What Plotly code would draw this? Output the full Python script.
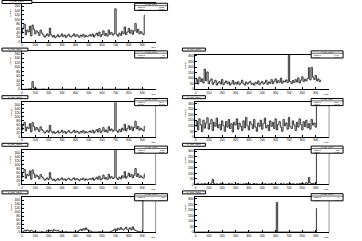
import plotly.graph_objects as go

W, H = 362, 241

# ---------------- data (bin contents) ----------------
names = ["h_adc_ch00", "h_adc_ch01", "h_adc_ch02", "h_adc_ch03", "h_adc_ch04",
         "h_adc_ch05", "h_adc_ch06", "h_adc_ch07", "h_adc_ch08"]
entries = ["1523", "12", "1498", "1540", "2876", "1511", "230", "402", "3"]
means = ["38.21", "8.05", "42.66", "39.02", "45.73", "38.87", "64.12", "71.40", "76.0"]

p1 = [22, 35, 45, 18, 30, 25, 40, 15, 43, 32, 20, 28, 24, 16, 30, 22, 18, 12, 15, 20,
      14, 35, 18, 12, 16, 10, 14, 18, 12, 15, 20, 13, 17, 11, 15, 19, 14, 12, 16, 20,
      13, 18, 15, 11, 17, 14, 19, 12, 16, 13, 15, 18, 14, 20, 12, 17, 22, 15, 25, 13,
      18, 28, 16, 21, 14, 30, 19, 24, 17, 20, 85, 18, 14, 22, 16, 26, 20, 38, 18, 25,
      34, 22, 30, 19, 28, 47, 24, 32, 20, 26, 22, 18, 68]
p2 = [0, 0, 0, 0, 0, 1, 0, 2, 20, 3, 0, 1, 0, 0, 0, 0, 1, 0, 0, 0,
      0, 0, 0, 0, 0, 0, 0, 0, 0, 0, 0, 0, 0, 0, 0, 0, 0, 0, 0, 0,
      0, 0, 0, 0, 0, 0, 0, 0, 0, 0, 0, 0, 0, 0, 0, 0, 0, 0, 0, 0,
      0, 0, 0, 0, 0, 0, 0, 0, 0, 0, 0, 0, 0, 0, 0, 0, 0, 0, 0, 0,
      0, 0, 0, 0, 0, 0, 0, 0, 0, 0, 0, 0, 0]
p3 = [20, 28, 15, 35, 22, 30, 18, 58, 25, 50, 16, 24, 30, 14, 20, 26, 12, 18, 22, 15,
      28, 13, 19, 24, 16, 21, 12, 17, 25, 14, 20, 15, 22, 13, 18, 26, 16, 12, 21, 15,
      19, 23, 14, 17, 12, 20, 16, 24, 13, 18, 22, 15, 19, 26, 14, 21, 17, 28, 16, 23,
      30, 18, 25, 20, 32, 17, 24, 21, 27, 19, 110, 22, 16, 25, 19, 28, 21, 33, 18, 26,
      36, 22, 29, 24, 31, 62, 27, 63, 35, 28, 40, 24, 30, 22, 26]
p4 = [20, 33, 42, 17, 28, 24, 38, 14, 41, 30, 19, 27, 22, 15, 29, 21, 17, 11, 14, 19,
      13, 33, 17, 11, 15, 10, 13, 17, 11, 14, 19, 12, 16, 10, 14, 18, 13, 11, 15, 19,
      12, 17, 14, 10, 16, 13, 18, 11, 15, 12, 14, 17, 13, 19, 11, 16, 21, 14, 24, 12,
      17, 27, 15, 20, 13, 29, 18, 23, 16, 19, 150, 17, 13, 21, 15, 25, 19, 36, 17, 24,
      32, 21, 29, 18, 27, 45, 23, 30, 19, 25, 21, 17, 30]
p5 = [30, 45, 20, 52, 35, 15, 48, 25, 40, 55, 22, 38, 50, 18, 42, 30, 54, 26, 36, 20,
      46, 32, 16, 44, 28, 50, 24, 38, 14, 42, 34, 52, 22, 40, 30, 18, 46, 26, 56, 32,
      20, 44, 36, 24, 50, 28, 16, 40, 30, 48, 22, 38, 54, 26, 34, 18, 46, 30, 42, 24,
      52, 20, 36, 44, 28, 16, 50, 32, 40, 22, 56, 30, 24, 46, 34, 18, 42, 28, 52, 36,
      20, 44, 30, 48, 26, 38, 22, 50, 34, 40, 28, 200]
p6 = [21, 34, 43, 18, 29, 25, 39, 15, 42, 31, 20, 27, 23, 16, 29, 22, 18, 12, 15, 19,
      14, 34, 18, 12, 15, 10, 14, 17, 12, 15, 19, 13, 16, 11, 15, 18, 14, 12, 16, 19,
      13, 17, 15, 11, 16, 14, 18, 12, 16, 13, 15, 17, 14, 19, 12, 16, 21, 15, 24, 13,
      17, 27, 16, 20, 14, 29, 18, 23, 17, 19, 150, 18, 14, 21, 16, 25, 19, 37, 18, 24,
      33, 22, 29, 19, 27, 46, 23, 31, 20, 25, 21, 18, 30]
p7 = [2, 0, 3, 0, 1, 2, 0, 3, 0, 2, 1, 0, 4, 15, 3, 0, 2, 0, 1, 3,
      0, 2, 0, 1, 0, 3, 0, 2, 1, 0, 2, 0, 3, 0, 1, 0, 2, 0, 3, 1,
      0, 2, 0, 1, 3, 0, 2, 0, 1, 0, 3, 0, 2, 1, 0, 2, 0, 3, 0, 1,
      2, 0, 1, 0, 3, 0, 2, 0, 1, 2, 0, 3, 0, 2, 1, 0, 2, 0, 3, 1,
      4, 2, 0, 5, 3, 20, 4, 2, 3, 1, 2, 200]
p8 = [0, 1, 5, 3, 6, 4, 2, 5, 3, 1, 0, 0, 0, 0, 0, 1, 0, 0, 0, 4,
      6, 3, 5, 2, 7, 4, 3, 5, 2, 1, 0, 0, 0, 1, 0, 0, 0, 0, 0, 0,
      0, 0, 2, 5, 8, 4, 10, 6, 12, 7, 5, 3, 1, 0, 0, 0, 0, 0, 1, 0,
      0, 0, 0, 0, 0, 0, 0, 2, 4, 6, 9, 5, 11, 7, 13, 8, 6, 10, 14, 7,
      9, 12, 6, 15, 8, 5, 3, 2, 1, 0, 0, 200]
p9 = [0, 0, 0, 0, 0, 0, 0, 0, 0, 0, 0, 0, 0, 0, 0, 0, 0, 0, 0, 0,
      0, 0, 0, 0, 0, 0, 0, 0, 0, 0, 0, 0, 0, 0, 0, 0, 0, 0, 0, 0,
      0, 0, 0, 0, 0, 0, 0, 0, 0, 0, 0, 0, 0, 0, 0, 0, 0, 0, 0, 0,
      0, 85, 0, 0, 0, 0, 0, 0, 0, 0, 0, 0, 0, 0, 0, 0, 0, 0, 0, 0,
      0, 0, 0, 0, 0, 0, 0, 0, 0, 0, 0, 68]
series = [p1, p2, p3, p4, p5, p6, p7, p8, p9]

x_range = [0, 100]
y_range = [0, 100]
x_ticks = [0, 10, 20, 30, 40, 50, 60, 70, 80, 90]
x_labels = ["0", "100", "200", "300", "400", "500", "600", "700", "800", "900"]
yl_ticks = [0, 11.5, 23, 34.5, 46, 57.5, 69, 80.5, 92]
yl_labels = ["0", "20", "40", "60", "80", "100", "120", "140", "160"]
yr_ticks = [0, 16, 32, 48, 64, 80, 96]
yr_labels = ["0", "50", "100", "150", "200", "250", "300"]

# ---------------- layout of the pads (pixel frames) ----------------
LEFT = (21, 155)
RIGHT = (195, 329)
pads = [
    (LEFT, 3, 42, 0, 0, False),
    (LEFT, 51, 90, 0, 48, False),
    (RIGHT, 55, 90, 181, 48, False),
    (LEFT, 103, 138, 0, 96, True),
    (RIGHT, 103, 138, 181, 96, True),
    (LEFT, 151, 186, 0, 144, True),
    (RIGHT, 151, 186, 181, 144, True),
    (LEFT, 199, 234, 0, 192, True),
    (RIGHT, 199, 234, 181, 192, True),
]

def px(x):
    return x / W

def py(y):
    return 1 - y / H

FONT = "Liberation Sans"
fig = go.Figure()
shapes = []
annotations = []

for i, (vals, pad) in enumerate(zip(series, pads), start=1):
    (fl, fr), ft, fb, padx, pady, redge = pad
    sfx = "" if i == 1 else str(i)
    left_col = padx == 0
    fig.add_trace(go.Scatter(
        x=list(range(len(vals))), y=vals, mode="lines",
        line=dict(shape="hvh", color="black", width=0.8),
        xaxis="x" + sfx, yaxis="y" + sfx, showlegend=False, hoverinfo="skip"))
    fig.layout["xaxis" + sfx] = dict(
        domain=[px(fl), px(fr)], anchor="y" + sfx, range=x_range,
        tickmode="array", tickvals=x_ticks, ticktext=x_labels,
        showline=True, linecolor="black", linewidth=1, mirror=True,
        ticks="inside", ticklen=2, tickwidth=1, tickcolor="black",
        showgrid=False, zeroline=False,
        tickfont=dict(size=3, color="black", family=FONT))
    fig.layout["yaxis" + sfx] = dict(
        domain=[py(fb), py(ft)], anchor="x" + sfx, range=y_range,
        tickmode="array",
        tickvals=yl_ticks if left_col else yr_ticks,
        ticktext=yl_labels if left_col else yr_labels,
        showline=True, linecolor="black", linewidth=1,
        ticks="inside", ticklen=2, tickwidth=1, tickcolor="black",
        showgrid=False, zeroline=False,
        tickfont=dict(size=3.5, color="black", family=FONT))
    if redge:
        shapes.append(dict(type="line", xref="paper", yref="paper",
                           x0=px(fr), x1=px(fr), y0=py(fb), y1=py(ft + 3),
                           line=dict(color="#999999", width=1)))
    # title box
    tw = 30 if i == 1 else (26 if left_col else 23)
    shapes.append(dict(type="rect", xref="paper", yref="paper",
                       x0=px(padx + 1), x1=px(padx + 1 + tw),
                       y0=py(pady + 3.5), y1=py(pady + 0.5),
                       line=dict(color="black", width=1), fillcolor="white"))
    annotations.append(dict(xref="paper", yref="paper", x=px(padx + 1 + tw / 2),
                            y=py(pady + 2), text=names[i - 1], showarrow=False,
                            font=dict(size=2.5, color="black", family=FONT),
                            xanchor="center", yanchor="middle"))
    # stats box
    if left_col:
        sx0, sx1 = 134, 167
    else:
        sx0, sx1 = 311, 343
    sy0 = pady + 3.3
    sy1 = pady + 10.5
    shapes.append(dict(type="rect", xref="paper", yref="paper",
                       x0=px(sx0), x1=px(sx1), y0=py(sy1), y1=py(sy0),
                       line=dict(color="black", width=1), fillcolor="white"))
    shapes.append(dict(type="line", xref="paper", yref="paper",
                       x0=px(sx0), x1=px(sx1), y0=py(sy0 + 2.4), y1=py(sy0 + 2.4),
                       line=dict(color="black", width=0.6)))
    annotations.append(dict(xref="paper", yref="paper", x=px((sx0 + sx1) / 2),
                            y=py(sy0 + 1.2), text=names[i - 1], showarrow=False,
                            font=dict(size=2.2, color="black", family=FONT),
                            xanchor="center", yanchor="middle"))
    for k, (lab, val) in enumerate([("Entries", entries[i - 1]), ("Mean", means[i - 1])]):
        yy = py(sy0 + 3.8 + k * 2.2)
        annotations.append(dict(xref="paper", yref="paper", x=px(sx0 + 1), y=yy,
                                text=lab, showarrow=False,
                                font=dict(size=2.2, color="black", family=FONT),
                                xanchor="left", yanchor="middle"))
        annotations.append(dict(xref="paper", yref="paper", x=px(sx1 - 1), y=yy,
                                text=val, showarrow=False,
                                font=dict(size=2.2, color="black", family=FONT),
                                xanchor="right", yanchor="middle"))
    # axis titles
    annotations.append(dict(xref="paper", yref="paper", x=px(fr + 1), y=py(fb + 2),
                            text="ADC", showarrow=False,
                            font=dict(size=2.5, color="black", family=FONT),
                            xanchor="right", yanchor="top"))
    annotations.append(dict(xref="paper", yref="paper",
                            x=px(padx + (10 if left_col else 4)), y=py(ft + 4),
                            text="counts", showarrow=False, textangle=-90,
                            font=dict(size=2.5, color="black", family=FONT),
                            xanchor="center", yanchor="top"))

fig.update_layout(
    width=W, height=H, margin=dict(l=0, r=0, t=0, b=0),
    paper_bgcolor="white", plot_bgcolor="white",
    shapes=shapes, annotations=annotations, showlegend=False)

fig.write_html("out.html")
